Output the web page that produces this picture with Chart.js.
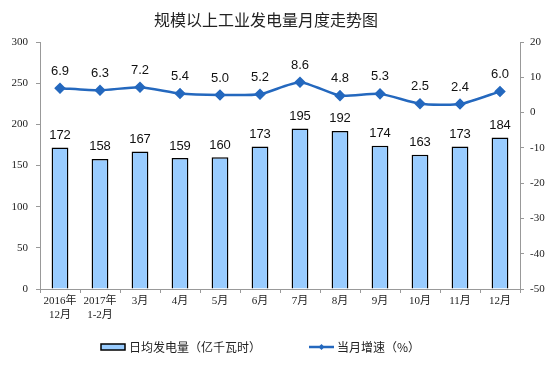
<!DOCTYPE html>
<html><head><meta charset="utf-8">
<script src="https://cdn.jsdelivr.net/npm/chart.js@4/dist/chart.umd.min.js"></script>
<style>html,body{margin:0;padding:0;background:#fff;}#wrap{width:559px;height:380px;}</style>
</head><body><div id="wrap"><canvas id="c" width="559" height="380"></canvas></div>
<script>
const categories = [["2016年","12月"],["2017年","1-2月"],"3月","4月","5月","6月","7月","8月","9月","10月","11月","12月"];
const dailyOutput = [172,158,167,159,160,173,195,192,174,163,173,184];
const growthRate = [6.9,6.3,7.2,5.4,5.0,5.2,8.6,4.8,5.3,2.5,2.4,6.0];
const titleText = "规模以上工业发电量月度走势图";
const barLegend = "日均发电量（亿千瓦时）";
const lineLegend = "当月增速（%）";

const BAR_COLOR = "#99CCFF";
const LINE_COLOR = "#2468BE";
const CJK = "'Noto Sans CJK SC', sans-serif";
const TICKFONT = "'Liberation Serif', 'Noto Sans CJK SC', serif";

const labelPlugin = {
  id: 'labels',
  afterDatasetsDraw(chart) {
    const ctx = chart.ctx;
    ctx.save();
    ctx.fillStyle = '#111';
    ctx.font = "13px 'Liberation Sans', Arial, sans-serif";
    ctx.textAlign = 'center';
    ctx.textBaseline = 'middle';
    const barMeta = chart.getDatasetMeta(0);
    barMeta.data.forEach((el, i) => {
      ctx.fillText(String(dailyOutput[i]), el.x, el.y - 12);
    });
    const lineMeta = chart.getDatasetMeta(1);
    lineMeta.data.forEach((el, i) => {
      ctx.fillText(growthRate[i].toFixed(1), el.x, el.y - 17);
    });
    ctx.restore();
  },
  afterDraw(chart) {
    const ctx = chart.ctx;
    ctx.save();
    ctx.fillStyle = '#222';
    ctx.font = "16px " + CJK;
    ctx.textAlign = 'center';
    ctx.textBaseline = 'middle';
    ctx.fillText(titleText, 266, 20);
    const y = 347;
    ctx.fillStyle = BAR_COLOR;
    ctx.fillRect(101, y - 3, 24, 6);
    ctx.strokeStyle = '#000';
    ctx.lineWidth = 1.5;
    ctx.strokeRect(101, y - 3, 24, 6);
    ctx.fillStyle = '#222';
    ctx.font = "12px " + CJK;
    ctx.textBaseline = 'middle';
    ctx.textAlign = 'left';
    ctx.fillText(barLegend, 129, y);
    ctx.strokeStyle = LINE_COLOR;
    ctx.lineWidth = 2.5;
    ctx.beginPath(); ctx.moveTo(309, y); ctx.lineTo(334, y); ctx.stroke();
    ctx.fillStyle = LINE_COLOR;
    ctx.beginPath(); ctx.moveTo(321.5, y - 3); ctx.lineTo(324.5, y); ctx.lineTo(321.5, y + 3); ctx.lineTo(318.5, y); ctx.closePath(); ctx.fill();
    ctx.fillStyle = '#222';
    ctx.fillText(lineLegend, 337, y);
    ctx.restore();
  }
};

new Chart(document.getElementById('c'), {
  data: {
    labels: categories,
    datasets: [
      { type: 'bar', label: barLegend, data: dailyOutput, yAxisID: 'y',
        backgroundColor: BAR_COLOR, borderColor: '#000', borderWidth: 1.5,
        barPercentage: 0.42, categoryPercentage: 1, order: 2 },
      { type: 'line', label: lineLegend, data: growthRate, yAxisID: 'y1',
        borderColor: LINE_COLOR, backgroundColor: LINE_COLOR, borderWidth: 2.5,
        pointStyle: 'rectRot', pointRadius: 4, pointBackgroundColor: LINE_COLOR,
        pointBorderColor: LINE_COLOR, tension: 0.2, order: 1 }
    ]
  },
  options: {
    responsive: false, animation: false, devicePixelRatio: 1,
    layout: { padding: { left: 0, right: 0, top: 42, bottom: 0 } },
    plugins: {
      legend: { display: false },
      tooltip: { enabled: false },
      title: { display: false }
    },
    scales: {
      x: {
        grid: { display: true, drawOnChartArea: false, drawTicks: true, tickLength: 4, color: '#999', offset: true },
        border: { color: '#999' },
        ticks: { color: '#222', font: { family: TICKFONT, size: 11 }, padding: 2, maxRotation: 0, autoSkip: false },
        afterFit(s) { s.height = 91; }
      },
      y: {
        position: 'left', min: 0, max: 300,
        grid: { display: true, drawOnChartArea: false, drawTicks: true, tickLength: 4, color: '#999' },
        border: { color: '#999' },
        ticks: { stepSize: 50, color: '#222', font: { family: TICKFONT, size: 11 }, padding: 8 },
        afterFit(s) { s.width = 40; }
      },
      y1: {
        position: 'right', min: -50, max: 20,
        grid: { display: true, drawOnChartArea: false, drawTicks: true, tickLength: 4, color: '#999' },
        border: { color: '#999' },
        ticks: { stepSize: 10, color: '#222', font: { family: TICKFONT, size: 11 }, padding: 6 },
        afterFit(s) { s.width = 39; }
      }
    }
  },
  plugins: [labelPlugin]
});
</script></body></html>
